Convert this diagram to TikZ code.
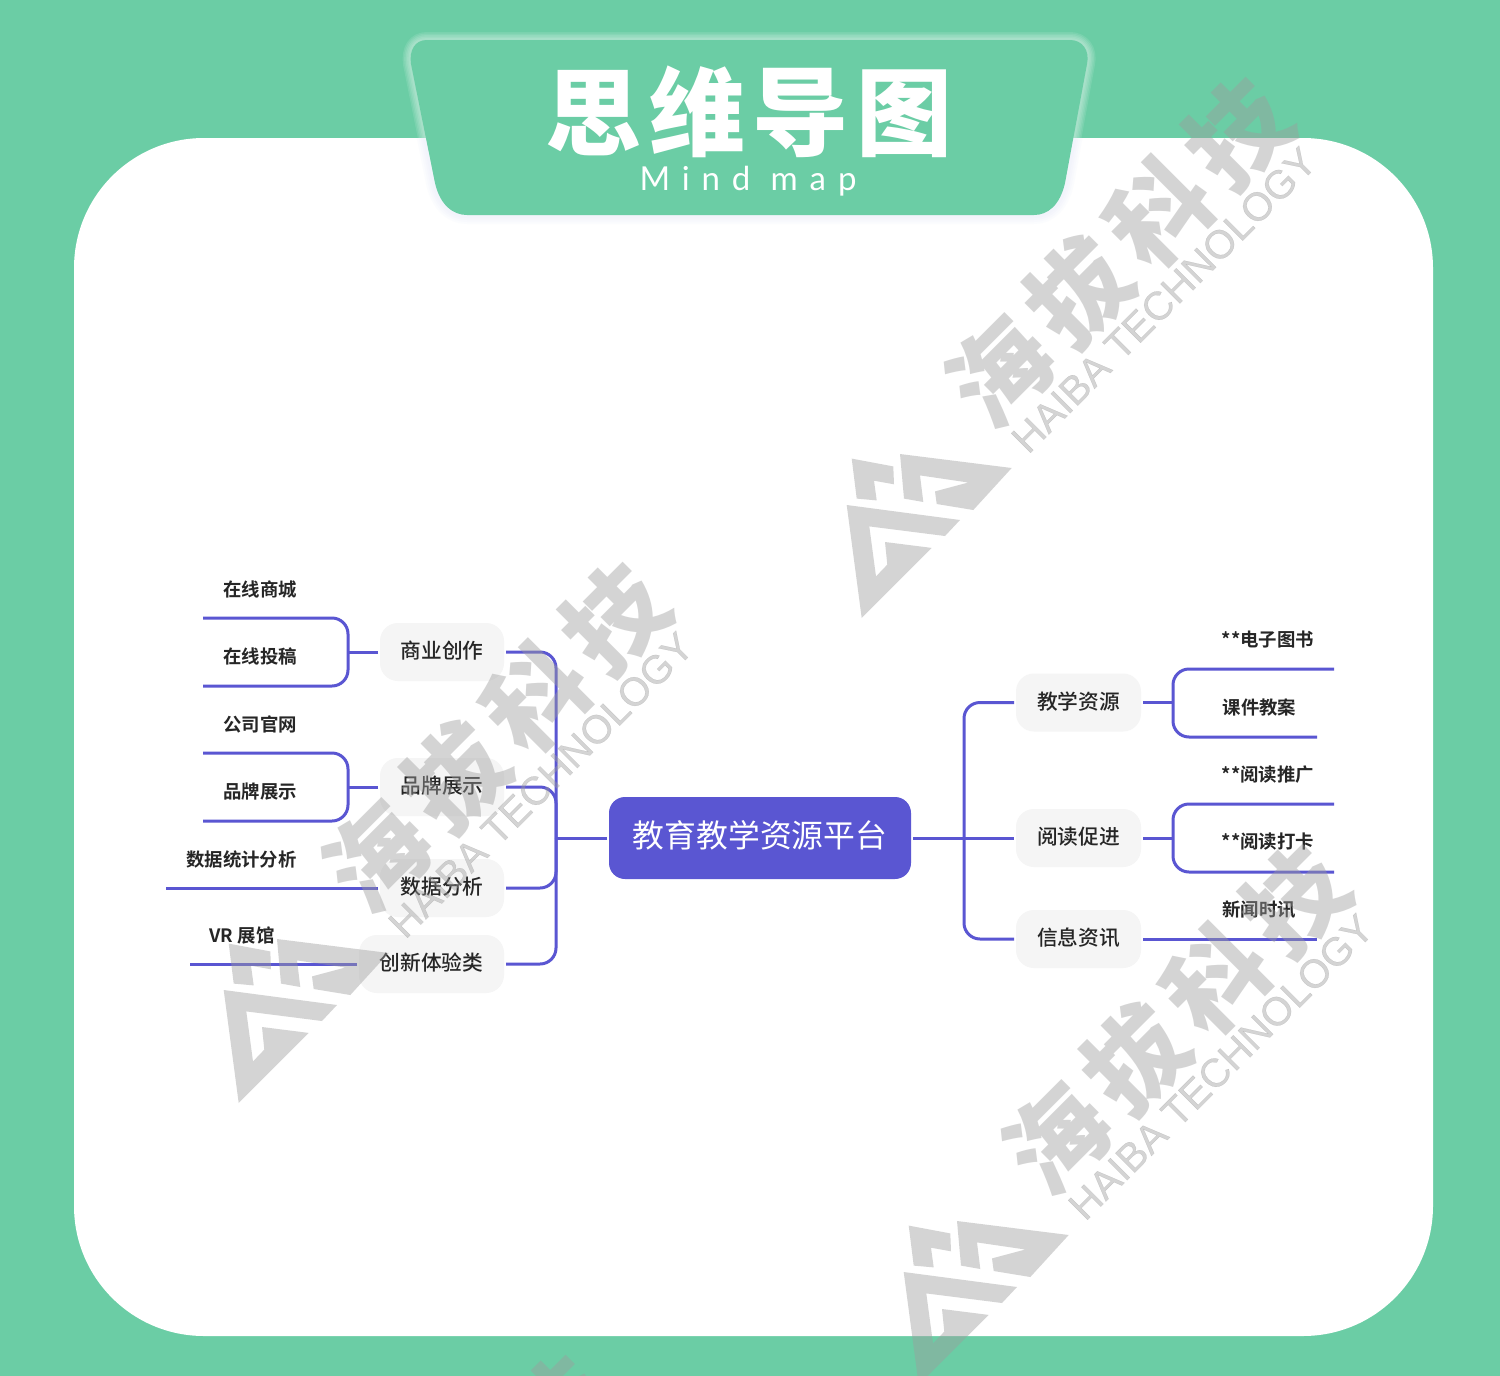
\documentclass[tikz,border=0pt]{standalone}
\usepackage{fontspec}
\setmainfont{Liberation Sans}
\newfontfamily\cjkreg{Noto Sans CJK SC}
\newfontfamily\cjkmed{Noto Sans CJK SC Medium}
\newfontfamily\cjkbold{Noto Sans CJK SC Bold}
\newfontfamily\cjkblack{Noto Sans CJK SC Black}
\newfontfamily\latinlight{Lato}
\newcommand{\liftby}[2]{\raisebox{#1}[\height][\depth]{#2}}
\definecolor{bggreen}{HTML}{6BCDA5}
\definecolor{linkblue}{HTML}{5A56D2}
\definecolor{boxgray}{HTML}{F5F5F5}
\definecolor{inkdark}{HTML}{262626}
\definecolor{wmgray}{RGB}{157,157,157}
\definecolor{glowblue}{HTML}{C9D4F5}
\tikzset{
  link/.style={draw=linkblue,line width=3pt},
  elbow/.style={link,rounded corners=16pt},
  branchbox/.style={fill=boxgray,rounded corners=18pt,inner sep=0pt,outer sep=2pt,minimum height=58pt,text=inkdark,font=\cjkmed\fontsize{20.7}{24}\selectfont},
  leaftext/.style={inner sep=0pt,text=inkdark,font=\cjkbold\fontsize{18.4}{22}\selectfont},
  rootbox/.style={fill=linkblue,rounded corners=16pt,inner sep=0pt,outer sep=2pt,minimum width=302pt,minimum height=82pt,text=white,font=\cjkreg\fontsize{31.8}{36}\selectfont},
  wmpiece/.style={fill=wmgray,fill opacity=0.43},
  wmtext/.style={text=wmgray,text opacity=0.43,inner sep=0pt,rotate=45}
}
\newcommand{\titleoutline}{(427,40) -- (1070,40) .. controls (1082,40) and (1090,50) .. (1087,64) -- (1065,183) .. controls (1060,205) and (1048,215) .. (1034,215) -- (467,215) .. controls (453,215) and (440,205) .. (435,183) -- (411,64) .. controls (409,50) and (415,40) .. (427,40) -- cycle}
\newcommand{\wmark}[3]{%
  \begin{scope}[shift={(#1,#2)}]
    \fill[wmpiece] (851.7,458.6) -- (893.3,466.4) -- (894,484.3) -- (874,480.7) -- (876.7,500.4) -- (856.7,498.6) -- cycle;
    \fill[wmpiece] (900,454) -- (1011.7,468) -- (973.3,510) -- (936.7,504) -- (935,491.4) -- (968.3,482.5) -- (920,475.4) -- (923.3,502) -- (904,498.6) -- cycle;
    \fill[wmpiece] (846.7,505) -- (960,520) -- (945,536) -- (869.3,526.4) -- (876,576.4) -- (887.3,564.6) -- (885,542) -- (931.7,547.9) -- (861.7,618) -- cycle;
    \node[wmtext,font=\cjkblack\addfontfeature{LetterSpace=12}\fontsize{100}{104}\selectfont] (#3cn) at (1119,252) {海拔科技};
    \node[wmtext,font=\addfontfeature{FakeBold=0.6}\fontsize{40}{44}\selectfont] (#3en) at (1164,300) {HAIBA TECHNOLOGY};
  \end{scope}%
}
\begin{document}
\begin{tikzpicture}[x=1pt,y=-1pt]
  \clip (0,0) rectangle (1500,1376);
  \fill[bggreen] (0,0) rectangle (1500,1376);
  \fill[white,rounded corners=130pt] (74,138) rectangle (1433,1336);

  % title plate with its glow
  \begin{scope}
    \clip (0,0) rectangle (1500,138);
    \foreach \w in {16,13,10,7,4}
      \draw[white,line width=\w pt,opacity=0.1,line join=round] \titleoutline;
  \end{scope}
  \begin{scope}
    \clip (0,138) rectangle (1500,260);
    \foreach \w in {18,14,10,6}
      \draw[glowblue,line width=\w pt,opacity=0.06,line join=round] \titleoutline;
  \end{scope}
  \fill[bggreen] \titleoutline;
  \node[inner sep=0pt,text=white,font=\cjkblack\addfontfeature{LetterSpace=8}\fontsize{96}{100}\selectfont] (title) at (749,112) {思维导图};
  \node[inner sep=0pt,text=white,font=\latinlight\addfontfeature{LetterSpace=36}\fontsize{33}{38}\selectfont] (subtitle) at (748,181) {Mind map};

  % root
  \node[rootbox] (root) at (760,838) {\liftby{2.5pt}{教育教学资源平台}};

  % left branches
  \node[branchbox,minimum width=124pt] (shangye) at (442,652) {\liftby{1pt}{商业创作}};
  \node[branchbox,minimum width=124pt] (pinpai) at (442,787) {\liftby{1pt}{品牌展示}};
  \node[branchbox,minimum width=124pt] (shuju) at (442,888) {\liftby{1pt}{数据分析}};
  \node[branchbox,minimum width=145pt] (chuangxin) at (431.5,964) {\liftby{1pt}{创新体验类}};

  % right branches
  \node[branchbox,minimum width=125pt] (jiaoxue) at (1078.5,702.5) {\liftby{1pt}{教学资源}};
  \node[branchbox,minimum width=125pt] (yuedu) at (1078.5,838) {\liftby{1pt}{阅读促进}};
  \node[branchbox,minimum width=125pt] (xinxi) at (1078.5,939) {\liftby{1pt}{信息资讯}};

  % leaves
  \node[leaftext] (l1) at (260,589) {在线商城};
  \node[leaftext] (l2) at (260,656.5) {在线投稿};
  \node[leaftext] (l3) at (260,724) {公司官网};
  \node[leaftext] (l4) at (260,791.5) {品牌展示};
  \node[leaftext] (l5) at (241.5,859) {数据统计分析};
  \node[leaftext] (l6) at (242,935) {VR 展馆};
  \node[leaftext] (r1) at (1268,640) {**电子图书};
  \node[leaftext] (r2) at (1259.5,707) {课件教案};
  \node[leaftext] (r3) at (1268,775) {**阅读推广};
  \node[leaftext] (r4) at (1268,842) {**阅读打卡};
  \node[leaftext] (r5) at (1259,910) {新闻时讯};

  % junctions and free ends
  \coordinate (ltrunk) at (556,838);
  \coordinate (rtrunk) at (964,838);
  \coordinate (bja) at (348,652);
  \coordinate (bjb) at (348,787);
  \coordinate (bjc) at (1173,702.5);
  \coordinate (bjd) at (1173,838);
  \coordinate (e1) at (203,618);
  \coordinate (e2) at (203,686);
  \coordinate (e3) at (203,753);
  \coordinate (e4) at (203,821);
  \coordinate (e5) at (166,888);
  \coordinate (e6) at (190,964);
  \coordinate (f1) at (1334,669);
  \coordinate (f2) at (1317,737);
  \coordinate (f3) at (1334,804);
  \coordinate (f4) at (1334,872);
  \coordinate (f5) at (1317,939);

  % connectors
  \draw[link] (root.west) -- (ltrunk);
  \draw[elbow] (shangye.east) -| (ltrunk);
  \draw[elbow] (pinpai.east) -| (ltrunk);
  \draw[elbow] (shuju.east) -| (ltrunk);
  \draw[elbow] (chuangxin.east) -| (ltrunk);
  \draw[link] (root.east) -- (yuedu.west);
  \draw[elbow] (jiaoxue.west) -| (rtrunk);
  \draw[elbow] (xinxi.west) -| (rtrunk);

  \draw[link] (shangye.west) -- (bja);
  \draw[elbow] (e1) -| (bja) |- (e2);
  \draw[link] (pinpai.west) -- (bjb);
  \draw[elbow] (e3) -| (bjb) |- (e4);
  \draw[link] (shuju.west) -- (e5);
  \draw[link] (chuangxin.west) -- (e6);

  \draw[link] (jiaoxue.east) -- (bjc);
  \draw[elbow] (f1) -| (bjc) |- (f2);
  \draw[link] (yuedu.east) -- (bjd);
  \draw[elbow] (f3) -| (bjd) |- (f4);
  \draw[link] (xinxi.east) -- (f5);

  % watermarks
  \wmark{0}{0}{wa}
  \wmark{-623}{485}{wb}
  \wmark{57}{767}{wc}
  \wmark{-680}{1278}{wd}
\end{tikzpicture}
\end{document}
